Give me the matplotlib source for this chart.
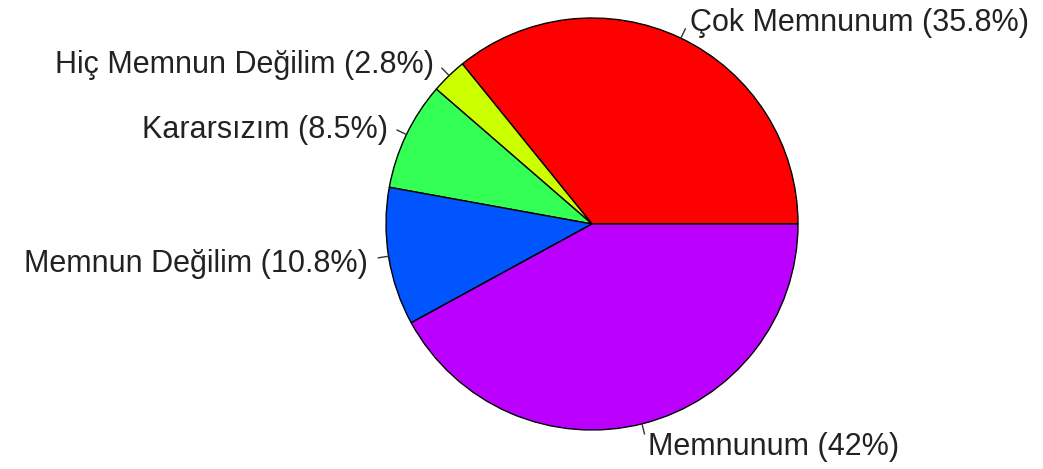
import numpy as np
import matplotlib.pyplot as plt

labels = ["Çok Memnunum", "Hiç Memnun Değilim", "Kararsızım", "Memnun Değilim", "Memnunum"]
percents = [35.8, 2.8, 8.5, 10.8, 42]
colors = ["#FF0000", "#CCFF00", "#33FF55", "#0055FF", "#BB00FF"]

plt.rcParams['font.family'] = ['Liberation Sans', 'DejaVu Sans']

fig = plt.figure(figsize=(10.43, 4.69), dpi=100)
ax = fig.add_axes([0, 0, 1, 1])

cx, cy, r = 592, 245, 206
texts = [f"{l} ({p:g}%)" for l, p in zip(labels, percents)]
wedges, txts = ax.pie(percents, labels=texts, colors=colors, startangle=0,
                      counterclock=True, center=(cx, cy), radius=r,
                      labeldistance=1.1, frame=True,
                      wedgeprops=dict(edgecolor="black", linewidth=1.0),
                      textprops=dict(fontsize=22, color="#222222"))
ax.set_xlim(0, 1043)
ax.set_ylim(0, 469)
ax.set_aspect('equal')
ax.axis('off')

# label alignment relative to the pie centre (like R's pie)
for t in txts:
    x, y = t.get_position()
    t.set_ha('left' if x >= cx else 'right')
    t.set_va('center_baseline')

# small tick marks from the rim towards the labels
cum = np.cumsum([0] + percents)
for i in range(len(percents)):
    mid = np.deg2rad((cum[i] + cum[i + 1]) / 2 / 100 * 360)
    ax.plot([cx + r * np.cos(mid), cx + 1.05 * r * np.cos(mid)],
            [cy + r * np.sin(mid), cy + 1.05 * r * np.sin(mid)],
            color="#333333", lw=1)

fig.savefig("out.png", dpi=100)
